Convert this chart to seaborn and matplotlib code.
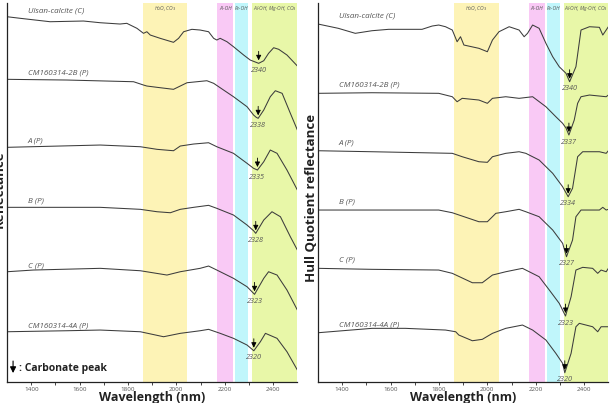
import numpy as np
import pandas as pd
import matplotlib
matplotlib.use("Agg")
import matplotlib.pyplot as plt
import seaborn as sns

sns.set_style("white")
plt.rcParams['font.family'] = ['Open Sans', 'DejaVu Sans']

# --------------------------
# Data (relative reflectance, stacked with offsets)
# --------------------------

names = ["Ulsan-calcite (C)", "CM160314-2B (P)", "A (P)", "B (P)", "C (P)", "CM160314-4A (P)"]

# left panel: reflectance
l_ulsan_wl = [1300, 1355, 1478, 1616, 1685, 1767, 1795, 1837, 1864, 1878, 1892, 1933, 1988, 2009, 2030, 2064,
              2098, 2133, 2154, 2167, 2181, 2209, 2236, 2278, 2305, 2340, 2361, 2381, 2402, 2423, 2457, 2500]
l_ulsan = [0, -1.6, -5, -4.3, -6, -7.3, -6.6, -11.6, -16.6, -15, -18.3, -21.6, -25.6, -21.6, -15, -12.6,
           -13.3, -15, -21.6, -23.3, -21.6, -25, -30, -38.3, -43.3, -46.6, -44, -36.6, -31, -32.6, -38.3, -49.3]
l_2b_wl = [1300, 1547, 1823, 1864, 1878, 1920, 1988, 2016, 2044, 2126, 2154, 2236, 2292, 2319, 2330, 2338,
           2361, 2388, 2409, 2437, 2471, 2500]
l_2b = [0, -0.7, -2.4, -5.7, -6.7, -8, -10, -6.7, -3.4, -1.4, -4, -17.4, -27.4, -35.7, -38, -39,
        -30.7, -17.4, -11.4, -14, -34, -50.7]
l_a_wl = [1300, 1685, 1851, 1920, 1988, 2016, 2071, 2133, 2167, 2236, 2292, 2319, 2335, 2361, 2388, 2416, 2457, 2500]
l_a = [0, 2.3, 0.6, -2, -3.4, 1.3, 3.3, 4.6, 0.6, -6, -16, -21, -22.7, -14.4, -2.7, -6, -22.7, -42.7]
l_b_wl = [1300, 1685, 1851, 1920, 1975, 2016, 2071, 2133, 2167, 2236, 2292, 2319, 2328, 2361, 2395, 2430, 2471, 2500]
l_b = [0, 0, -2, -4.4, -5.4, -2, 0, 2, -1, -7.7, -17.7, -23.4, -26, -12.7, -4.4, -9.4, -29.4, -42.7]
l_c_wl = [1300, 1409, 1685, 1851, 1961, 2016, 2098, 2133, 2167, 2236, 2292, 2323, 2361, 2381, 2416, 2457, 2500]
l_c = [0, 1.7, 3.4, 1, -3.3, 0, 3.4, 5.7, 1.7, -6.6, -15, -22.6, -6.6, 0, -3.3, -18.3, -38.3]
l_4a_wl = [1300, 1547, 1685, 1851, 1947, 2016, 2098, 2133, 2181, 2236, 2292, 2320, 2347, 2368, 2416, 2457, 2500]
l_4a = [0, 1, 1.7, 0, -5, -1.6, 1, 2.4, -1.6, -6.6, -13.3, -19, -10, -1.6, -6.6, -20, -38.3]
l_offsets = [365.3, 302.7, 234.7, 174.7, 110.3, 50.3]
l_peaks = [2340, 2338, 2335, 2328, 2323, 2320]

# right panel: hull quotient reflectance
r_ulsan_wl = [1300, 1384, 1454, 1523, 1592, 1730, 1772, 1799, 1827, 1855, 1875, 1889, 1903, 1965, 2000, 2021, 2048,
              2090, 2131, 2152, 2166, 2187, 2214, 2242, 2270, 2297, 2325, 2340, 2366, 2387, 2422, 2463, 2477, 2491, 2500]
r_ulsan = [0, -4.3, -9.3, -6.7, -5.3, -5.3, -2, -1, -2.7, -6, -17.7, -12.7, -21, -24.3, -27.7, -16, -7.7,
           -2.7, -6, -12.7, -9.3, -1, -4.3, -19.3, -32.7, -42.7, -49.3, -57.7, -42.7, -6, -2.7, -3.3, -11, -6, -2.7]
r_2b_wl = [1300, 1523, 1799, 1855, 1875, 1896, 1965, 2000, 2021, 2076, 2131, 2187, 2242, 2283, 2311, 2325, 2337,
           2359, 2373, 2387, 2422, 2491, 2500]
r_2b = [0, 0.6, 0, -3.4, -8.4, -5, -6.7, -10, -5, -3.4, -5, -3.4, -13.4, -23.4, -30, -34.7, -41.7,
        -26.7, -10, -3.4, -1.7, -3.4, -1.7]
r_a_wl = [1300, 1523, 1855, 1896, 1965, 2000, 2021, 2076, 2131, 2159, 2214, 2270, 2311, 2334, 2352, 2373, 2394,
          2463, 2491, 2500]
r_a = [0, -1, -2.6, -6, -11, -11.6, -6, -2.6, -1, -2.6, -9.3, -22.6, -36, -46, -37.6, -6, -1, -1, -2.6, 0]
r_b_wl = [1300, 1799, 1855, 1965, 2000, 2035, 2076, 2131, 2159, 2214, 2270, 2311, 2327, 2352, 2366, 2387, 2463,
          2477, 2491, 2500]
r_b = [0, 0, -2.7, -11.7, -11.7, -3.3, -1.7, 0.7, -1.7, -6.7, -20, -33.3, -46.7, -30, -6.7, 0, 0, 2.7, 0, 0.7]
r_c_wl = [1300, 1523, 1799, 1855, 1938, 1979, 2021, 2076, 2145, 2173, 2214, 2256, 2297, 2323, 2346, 2366, 2394,
          2435, 2456, 2470, 2491, 2500]
r_c = [0, -1, -1.7, -5, -14.4, -14.4, -6.7, -3.4, 0, -3.4, -8.4, -21.7, -35, -47.7, -28.4, -1.7, 1, 0, -5, -1.7, -3.4, 0]
r_4a_wl = [1300, 1523, 1661, 1827, 1869, 1882, 1938, 1979, 2021, 2076, 2145, 2187, 2242, 2283, 2311, 2320, 2346,
           2366, 2380, 2435, 2456, 2470, 2500]
r_4a = [0, 4.4, 4.4, 2.7, 1, -2.3, -8, -6.6, -0.6, 4.4, 7.7, 2.7, -7.3, -20.6, -30.6, -40, -20.6,
        6, 9.4, 6, 1, 6, 6]
r_offsets = [358, 288.7, 231.3, 172, 113.7, 49.3]
r_peaks = [2340, 2337, 2334, 2327, 2323, 2320]

# absorption bands (nm)
band_labels = [r"H$_2$O, CO$_3$", "Al-OH", "Fe-OH", r"Al-OH, Mg-OH, CO$_3$"]
left_bands = [(1863, 2045), (2169, 2235), (2243, 2297), (2314, 2500)]
right_bands = [(1864, 2047), (2171, 2238), (2246, 2300), (2317, 2500)]
band_colors = ["#fdf3b6", "#f9c9f5", "#c0f6fb", "#e8f7a8"]

left_specs = list(zip(names, [l_ulsan_wl, l_2b_wl, l_a_wl, l_b_wl, l_c_wl, l_4a_wl],
                      [l_ulsan, l_2b, l_a, l_b, l_c, l_4a], l_offsets, l_peaks))
right_specs = list(zip(names, [r_ulsan_wl, r_2b_wl, r_a_wl, r_b_wl, r_c_wl, r_4a_wl],
                       [r_ulsan, r_2b, r_a, r_b, r_c, r_4a], r_offsets, r_peaks))

line_col = "#3c3c3c"
text_col = "#555555"
title_font = ['Liberation Sans Narrow', 'Open Sans', 'DejaVu Sans']
arrow_props = dict(arrowstyle="-|>,head_length=0.6,head_width=0.3", color="black",
                   lw=0.6, mutation_scale=5, shrinkA=0, shrinkB=0)


def draw_panel(ax, specs, bands, label_dy):
    for (lo, hi), col, lab in zip(bands, band_colors, band_labels):
        ax.axvspan(lo, hi, color=col, lw=0, zorder=0)
        ax.text((lo + hi) / 2, 374, lab, fontsize=3.6, style="italic", color=text_col,
                ha="center", va="center")

    for name, wl, vals, off, pk in specs:
        df = pd.DataFrame({"wl": wl, "refl": np.array(vals) + off})
        sns.lineplot(data=df, x="wl", y="refl", ax=ax, color=line_col, linewidth=0.75)
        ax.text(1385, df["refl"].iloc[0] + label_dy, name, fontsize=5.8, style="italic",
                color=text_col, ha="left", va="center")
        ymin = df.loc[df["wl"] == pk, "refl"].values[0]
        ax.annotate("", xy=(pk, ymin + 3), xytext=(pk, ymin + 12), arrowprops=arrow_props)
        ax.text(pk, ymin - 7, str(pk), fontsize=5.2, style="italic", color=text_col,
                ha="center", va="center")

    ax.set_xlim(1300, 2500)
    ax.set_ylim(0, 379)
    ax.set_xticks([1400, 1600, 1800, 2000, 2200, 2400])
    ax.set_xticks([1500, 1700, 1900, 2100, 2300], minor=True)
    ax.tick_params(axis="x", which="both", direction="out", length=2.5, width=0.6,
                   labelsize=4.5, labelcolor=text_col, pad=1, bottom=True)
    ax.set_yticks([])
    ax.set_xlabel("")
    ax.set_ylabel("")
    for side in ["top", "right"]:
        ax.spines[side].set_visible(False)
    for side in ["left", "bottom"]:
        ax.spines[side].set_color("#222222")
        ax.spines[side].set_linewidth(0.9)


fig = plt.figure(figsize=(6.1, 4.03), dpi=100)
ax1 = fig.add_axes([0.0115, 0.052, 0.476, 0.9405])
ax2 = fig.add_axes([0.5213, 0.052, 0.476, 0.9405])

draw_panel(ax1, left_specs, left_bands, 6)
draw_panel(ax2, right_specs, right_bands, 8)

for ax in (ax1, ax2):
    ax.text(0.5, -0.042, "Wavelength (nm)", transform=ax.transAxes, ha="center", va="center",
            fontsize=9, fontweight="bold", color="#222222", family=title_font)

fig.text(-0.002, 0.53, "Reflectance", rotation=90, ha="center", va="center",
         fontsize=9.5, fontweight="bold", color="#222222", family=title_font)
fig.text(0.511, 0.51, "Hull Quotient reflectance", rotation=90, ha="center", va="center",
         fontsize=9.5, fontweight="bold", color="#222222", family=title_font)

# carbonate peak legend
ax1.annotate("", xy=(1325, 9), xytext=(1325, 21),
             arrowprops=dict(arrow_props, mutation_scale=6, lw=0.8))
ax1.text(1350, 14, ": Carbonate peak", fontsize=7.5, fontweight="bold", color="#222222",
         ha="left", va="center")

fig.savefig("out.png", dpi=100)
